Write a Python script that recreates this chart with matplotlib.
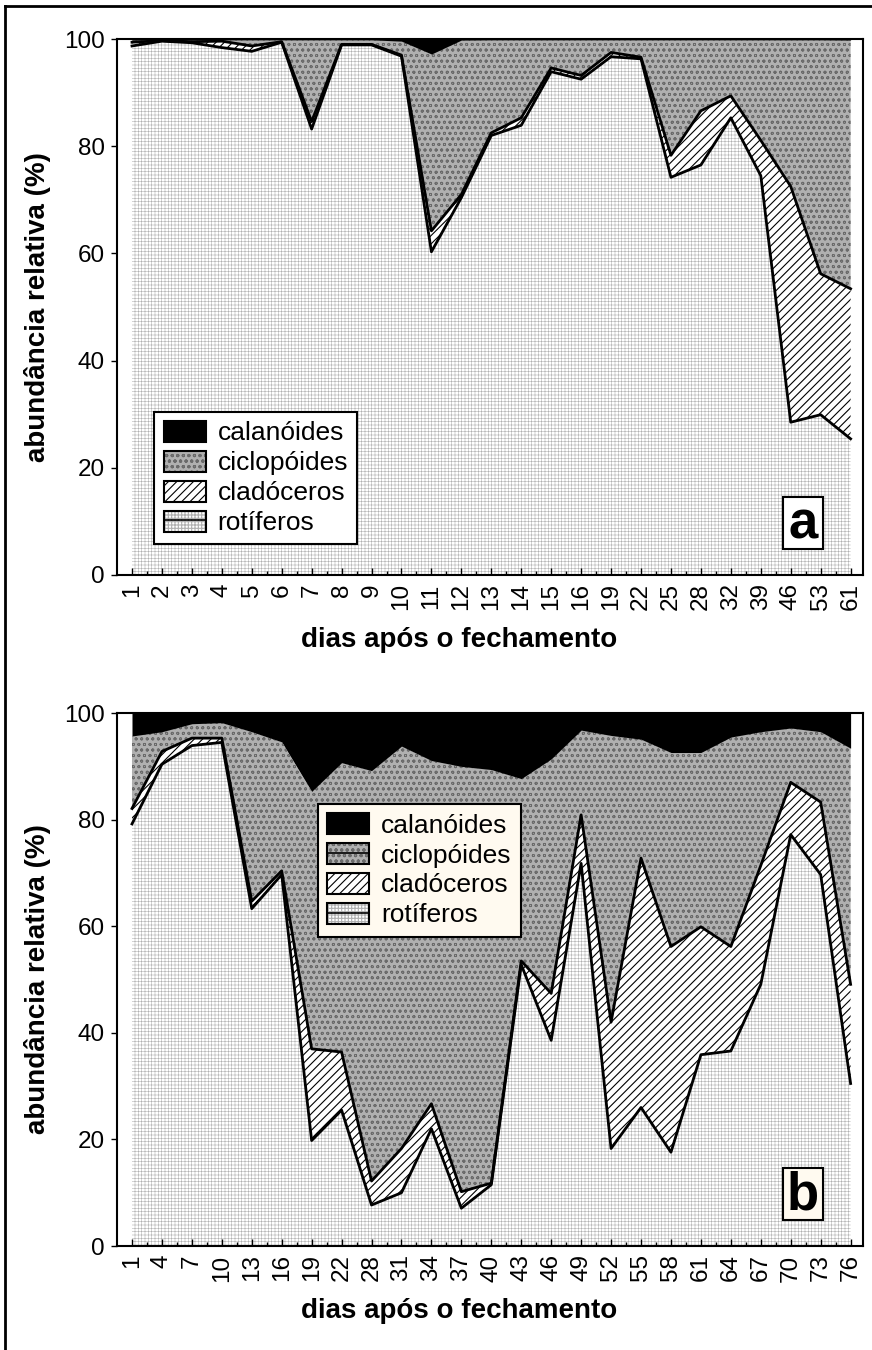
import matplotlib.pyplot as plt
import numpy as np
from matplotlib.patches import Patch, Rectangle
from matplotlib.lines import Line2D
from matplotlib.legend_handler import HandlerTuple

plt.rcParams['font.family'] = ['Liberation Sans', 'DejaVu Sans']
plt.rcParams['hatch.linewidth'] = 0.8

# painel a - abundancia relativa (%) por dia apos o fechamento
dias_a = ['1', '2', '3', '4', '5', '6', '7', '8', '9', '10', '11', '12', '13',
          '14', '15', '16', '19', '22', '25', '28', '32', '39', '46', '53', '61']
rot_a = [98.7, 99.6, 99.3, 98.4, 97.7, 99.4, 83.2, 98.9, 98.9, 96.8, 60.3, 70.4, 82.0,
         83.9, 93.9, 92.5, 96.7, 96.3, 74.2, 76.5, 85.3, 74.5, 28.5, 29.9, 25.4]
cla_a = [0.7, 0.1, 0.2, 1.2, 1.0, 0.1, 1.4, 0.1, 0.1, 0.2, 3.9, 0.6, 0.5,
         1.4, 0.7, 0.7, 0.8, 0.3, 4.1, 10.1, 4.1, 6.6, 44.0, 26.3, 28.0]
cic_a = [0.4, 0.15, 0.35, 0.25, 1.15, 0.35, 15.25, 0.85, 0.85, 2.6, 33.0, 28.8, 17.35,
         14.55, 5.25, 6.65, 2.35, 3.25, 21.55, 13.25, 10.45, 18.75, 27.35, 43.65, 46.4]
cal_a = [0.2, 0.15, 0.15, 0.15, 0.15, 0.15, 0.15, 0.15, 0.15, 0.4, 2.8, 0.2, 0.15,
         0.15, 0.15, 0.15, 0.15, 0.15, 0.15, 0.15, 0.15, 0.15, 0.15, 0.15, 0.2]

# painel b
dias_b = ['1', '4', '7', '10', '13', '16', '19', '22', '28', '31', '34', '37', '40',
          '43', '46', '49', '52', '55', '58', '61', '64', '67', '70', '73', '76']
rot_b = [79.2, 90.4, 93.9, 94.5, 63.3, 69.7, 19.8, 25.5, 7.7, 10.0, 22.0, 7.1, 11.5,
         52.8, 38.6, 71.8, 18.3, 26.0, 17.6, 35.9, 36.6, 49.1, 77.2, 69.7, 30.5]
cla_b = [2.9, 2.4, 1.4, 0.8, 1.4, 0.7, 17.2, 10.9, 4.5, 8.3, 4.7, 3.1, 0.3,
         0.7, 8.8, 9.1, 23.7, 46.8, 38.6, 24.0, 19.6, 22.3, 9.8, 13.6, 18.6]
cic_b = [13.6, 3.7, 2.7, 2.9, 31.8, 24.2, 48.3, 54.3, 77.0, 75.5, 64.4, 79.8, 77.6,
         34.2, 44.0, 15.9, 53.8, 22.3, 36.4, 32.7, 39.3, 25.1, 10.2, 13.2, 44.3]
cal_b = [4.3, 3.5, 2.0, 1.8, 3.5, 5.4, 14.7, 9.3, 10.8, 6.2, 8.9, 10.0, 10.6,
         12.3, 8.6, 3.2, 4.2, 4.9, 7.4, 7.4, 4.5, 3.5, 2.8, 3.5, 6.6]

nomes = ['calanóides', 'ciclopóides', 'cladóceros', 'rotíferos']

# estilos (face, cor da hachura, hachura)
est_rot = ('white', '#b0b0b0', '+++++')
est_cla = ('white', 'black', '////')
est_cic = ('#b0b0b0', '#6a6a6a', 'ooo')
est_cal = ('black', 'black', None)


def camada(ax, x, y0, y1, est, lw_h):
    with plt.rc_context({'hatch.linewidth': lw_h}):
        ax.fill_between(x, y0, y1, facecolor=est[0], edgecolor=est[1],
                        hatch=est[2], linewidth=0)


def handle(est, lw_h, linha=False):
    with plt.rc_context({'hatch.linewidth': lw_h}):
        p = Patch(facecolor=est[0], edgecolor=est[1], hatch=est[2], linewidth=0)
    borda = Patch(fill=False, edgecolor='black', linewidth=1.5)
    if linha:
        return (p, Line2D([], [], color='black', lw=1.2), borda)
    return (p, borda)


def painel(ax, dias, rot, cla, cic, cal, letra, fundo, leg_xy, linha_cic):
    x = np.arange(len(dias))
    b1 = np.array(rot)
    b2 = b1 + np.array(cla)
    b3 = b2 + np.array(cic)
    b4 = b3 + np.array(cal)

    camada(ax, x, 0, b1, est_rot, 0.4)
    camada(ax, x, b1, b2, est_cla, 0.8)
    camada(ax, x, b2, b3, est_cic, 0.6)
    camada(ax, x, b3, b4, est_cal, 0.5)
    ax.plot(x, b1, color='black', lw=2)
    ax.plot(x, b2, color='black', lw=2)

    ax.set_xlim(-0.5, 24.4)
    ax.set_ylim(0, 100)
    ax.set_xticks(x)
    ax.set_xticklabels(dias, rotation=90)
    ax.set_xticks(x[:-1] + 0.5, minor=True)
    ax.set_yticks([0, 20, 40, 60, 80, 100])
    ax.tick_params(axis='y', direction='out', length=4, width=1, labelsize=17.5, pad=5)
    ax.tick_params(axis='x', direction='in', length=5, width=1, labelsize=17.5, pad=6)
    ax.tick_params(axis='x', which='minor', direction='in', length=3, width=1)
    for s in ax.spines.values():
        s.set_linewidth(1.5)

    ax.set_xlabel('dias após o fechamento', fontsize=20, fontweight='bold', labelpad=12)
    ax.xaxis.label.set_x(0.459)
    ax.set_ylabel('abundância relativa (%)', fontsize=20, fontweight='bold', labelpad=9)

    hs = [handle(est_cal, 0.5), handle(est_cic, 0.6, linha_cic),
          handle(est_cla, 0.8), handle(est_rot, 0.4, True)]
    leg = ax.legend(hs, nomes, loc='upper left', bbox_to_anchor=leg_xy,
                    handler_map={tuple: HandlerTuple(ndivide=1, pad=0)},
                    fontsize=19, frameon=True, fancybox=False, framealpha=1,
                    facecolor=fundo, edgecolor='black', handlelength=1.6,
                    handleheight=0.85, labelspacing=0.2, handletextpad=0.45,
                    borderpad=0.35, borderaxespad=0)
    leg.get_frame().set_linewidth(1.5)

    ax.add_patch(Rectangle((0.893, 0.048), 0.054, 0.098, transform=ax.transAxes,
                           facecolor=fundo, edgecolor='black', lw=1.5, zorder=5))
    ax.text(0.92, 0.094, letra, transform=ax.transAxes, ha='center', va='center',
            fontsize=38, fontweight='bold', zorder=6)


fig = plt.figure(figsize=(8.72, 13.5), dpi=100)
ax_a = fig.add_axes([0.1342, 0.5741, 0.855, 0.397])
ax_b = fig.add_axes([0.1342, 0.0770, 0.855, 0.3948])

painel(ax_a, dias_a, rot_a, cla_a, cic_a, cal_a, 'a', 'white', (0.05, 0.305), False)
painel(ax_b, dias_b, rot_b, cla_b, cic_b, cal_b, 'b', '#fffaf0', (0.269, 0.83), True)

# moldura da figura
fig.add_artist(Line2D([0.0057, 0.0057], [0, 0.9956], transform=fig.transFigure,
                      color='black', lw=2))
fig.add_artist(Line2D([0.0057, 1], [0.9956, 0.9956], transform=fig.transFigure,
                      color='black', lw=2))

fig.savefig('out.png', dpi=100)
